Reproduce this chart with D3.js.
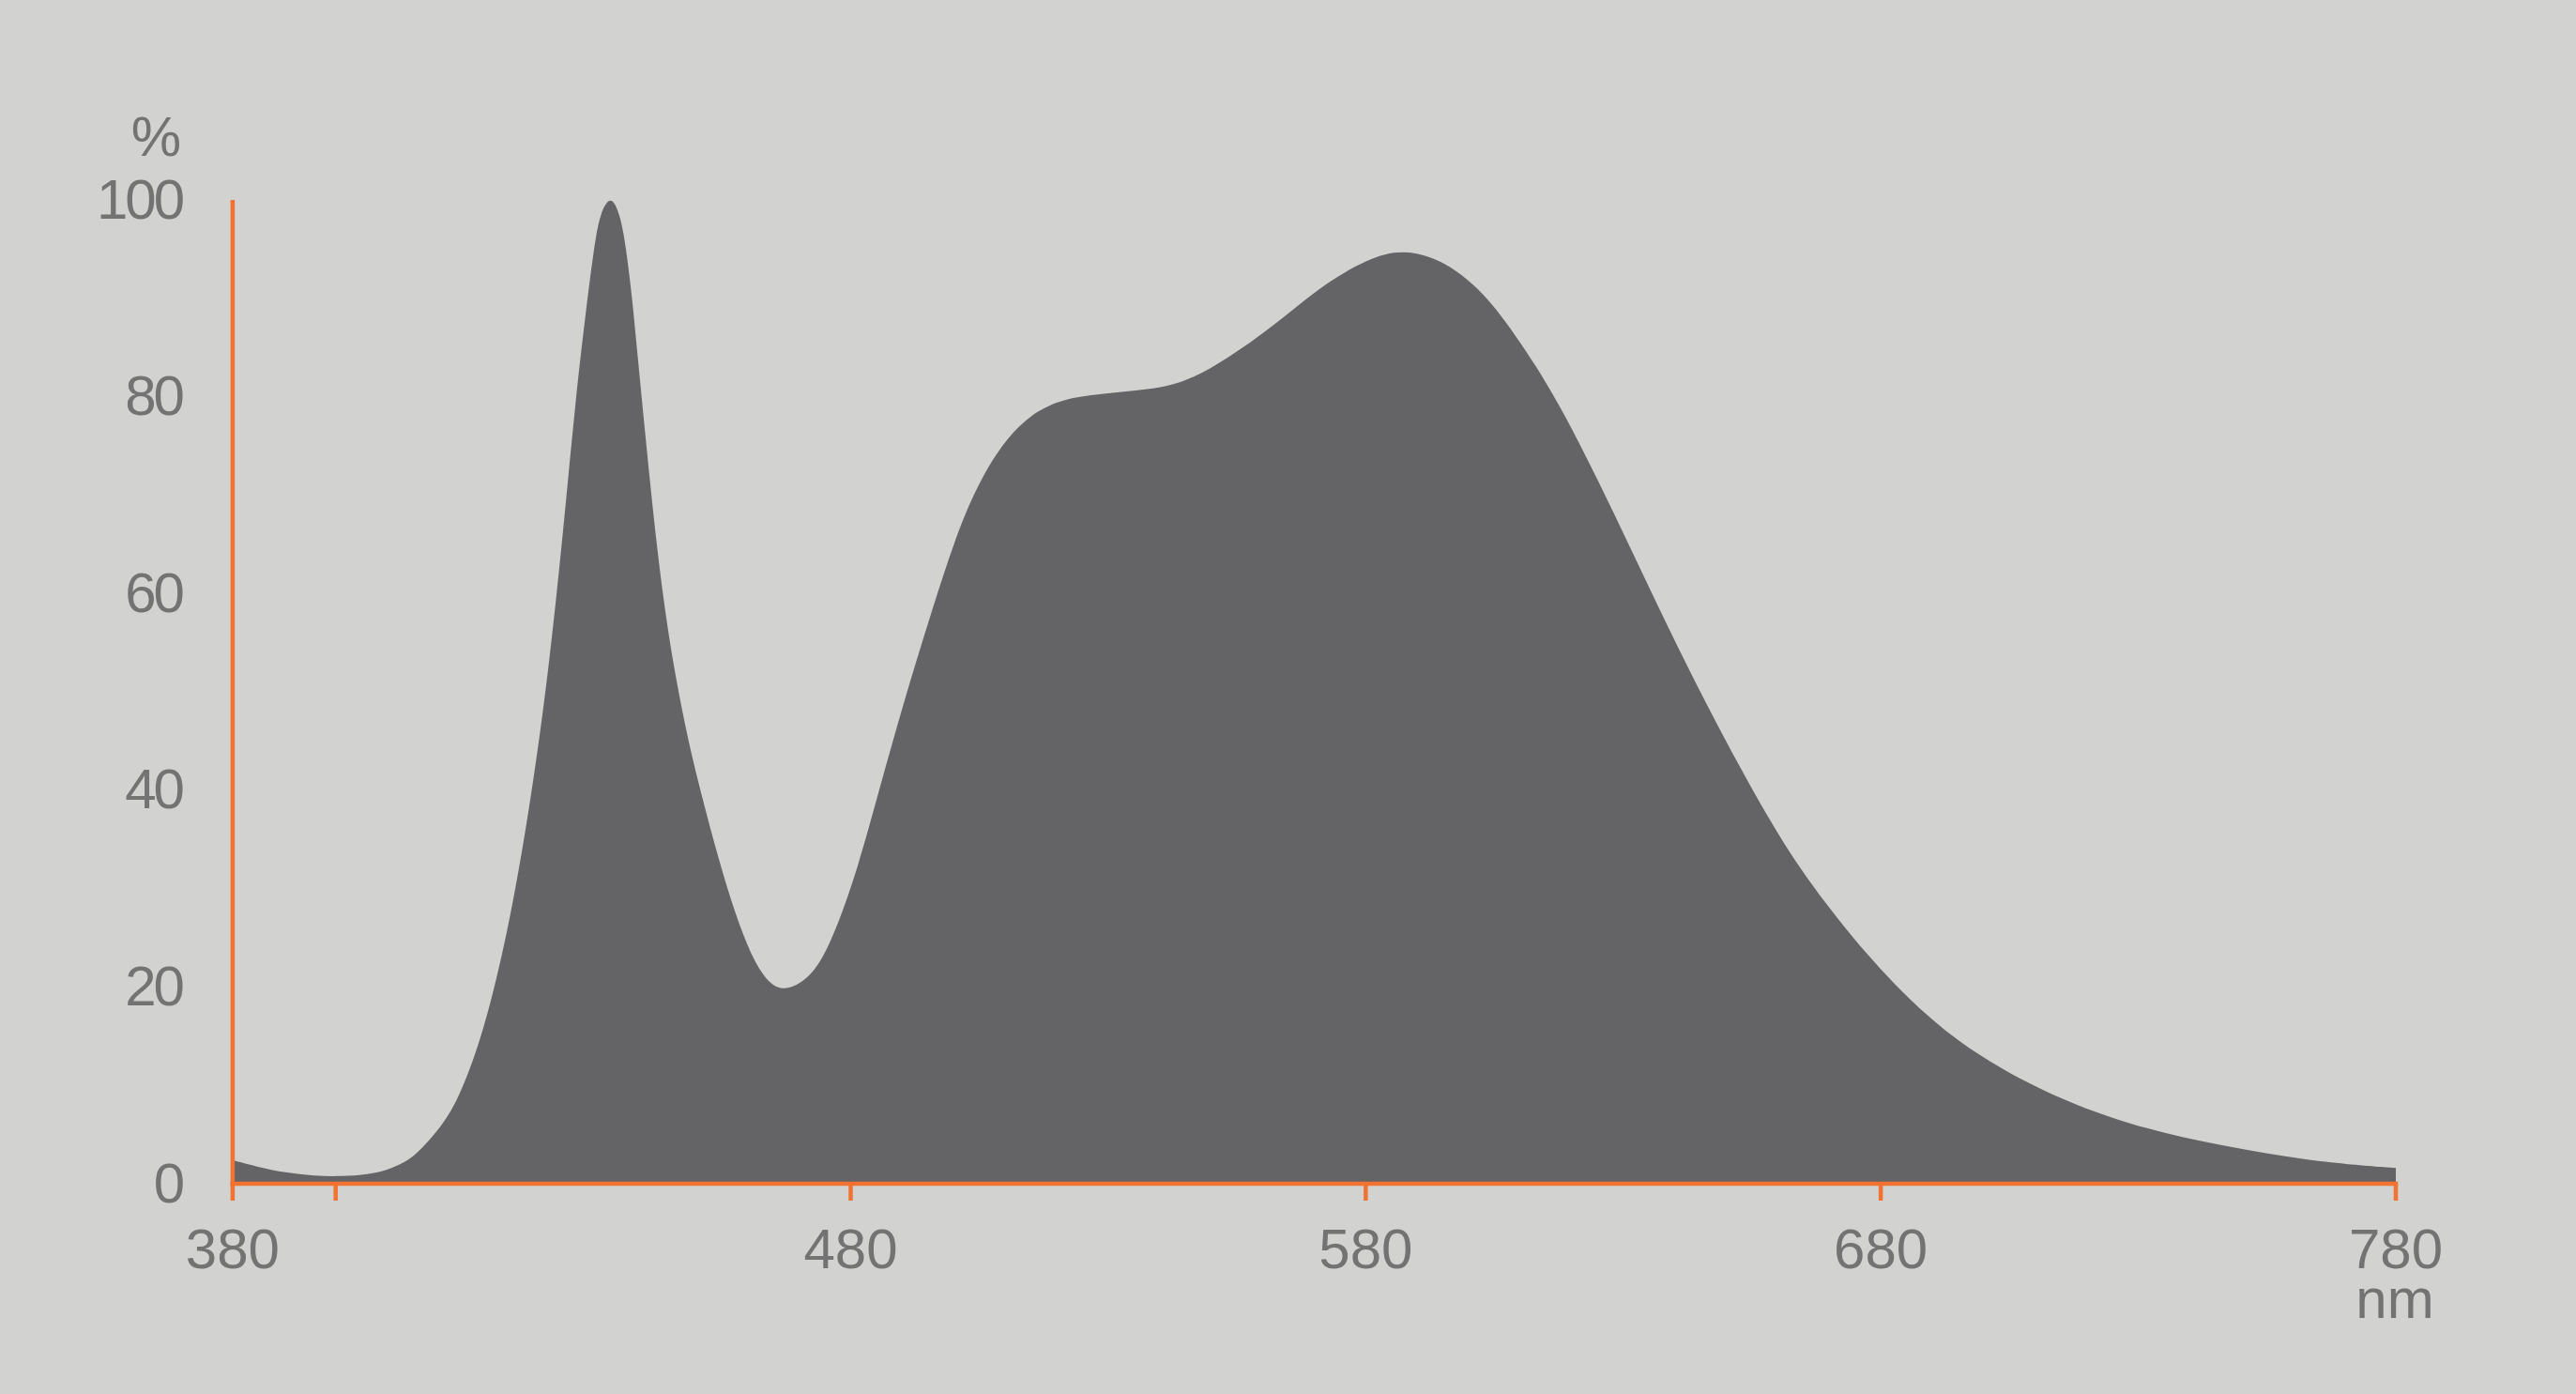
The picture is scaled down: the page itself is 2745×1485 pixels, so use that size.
<!DOCTYPE html>
<html>
<head>
<meta charset="utf-8">
<script src="https://cdn.jsdelivr.net/npm/d3@7"></script>
<style>
  html, body { margin: 0; padding: 0; background: #d2d2d0; }
  svg { display: block; }
  text { font-family: "Liberation Sans", Arial, sans-serif; fill: #737373; }
</style>
</head>
<body>
<svg id="chart" width="2745" height="1485"></svg>
<script>
// Wavelength (nm) and relative intensity (%)
const wavelengths = [360, 365.5, 370, 376, 381, 386.4, 390, 393.4, 396, 399, 401.5, 403.9, 407.4, 410.9, 414.4, 417.8, 421.3, 424.2, 426.6, 428.4, 430.2, 431.4, 433.5, 435.3, 436.3, 437.5, 438.7, 440.0, 441.2, 442.4, 443.6, 445.4, 448.4, 451.5, 454.5, 457.6, 460.6, 463.6, 466.7, 470.3, 474.0, 477.6, 481.3, 484.9, 489.8, 495.8, 501.9, 508.0, 514.0, 520.1, 526.2, 535.3, 544.4, 553.5, 561.9, 571.1, 580.5, 587, 594.4, 602.8, 610, 618, 629.6, 641.2, 652.9, 662.2, 671.4, 681.9, 694.7, 711, 728.4, 745.8, 763.3, 780];
const intensity   = [2.2, 1.43, 0.95, 0.6, 0.55, 0.76, 1.2, 1.95, 3.0, 4.7, 6.4, 8.6, 13.2, 19.7, 28.1, 38.5, 51.6, 66.2, 79.6, 87.7, 95.2, 98.6, 100.4, 98.2, 95.2, 90.3, 83.6, 76.6, 70.3, 64.5, 59.4, 53.0, 44.8, 38.4, 32.5, 27.2, 23.1, 20.4, 19.4, 20.1, 22.0, 26.2, 31.8, 38.6, 47.9, 58.2, 68.0, 74.1, 77.7, 79.4, 80.0, 80.4, 81.0, 83.8, 86.9, 91.0, 93.9, 94.8, 93.9, 90.6, 85.4, 78.9, 66.5, 53.5, 41.8, 33.3, 26.8, 20.3, 14.1, 9.2, 5.7, 3.7, 2.1, 1.4];

const xTicks = [380, 480, 580, 680, 780];
const xTickLabels = ["380", "480", "580", "680", "780"];
const yTicks = [0, 20, 40, 60, 80, 100];
const yTickLabels = ["0", "20", "40", "60", "80", "100"];
const xDomain = [360, 780];
const yDomain = [0, 100];
const xUnit = "nm";
const yUnit = "%";

const data = wavelengths.map((w, i) => ({ w, v: intensity[i] }));

const svg = d3.select("#chart");
const x = d3.scaleLinear().domain(xDomain).range([247.9, 2553]);
const y = d3.scaleLinear().domain(yDomain).range([1259, 211]);

const orange = "#f17231";
const axisW = 4.5;

svg.append("rect").attr("width", 2745).attr("height", 1485).attr("fill", "#d2d2d0");

const area = d3.area()
  .x(d => x(d.w))
  .y0(y(0))
  .y1(d => y(d.v))
  .curve(d3.curveBasis);

svg.append("path").datum(data).attr("d", area).attr("fill", "#646466");

// y axis line
svg.append("line")
  .attr("x1", x(xDomain[0])).attr("x2", x(xDomain[0]))
  .attr("y1", y(100) + 2).attr("y2", y(0) + 4)
  .attr("stroke", orange).attr("stroke-width", axisW);

// x axis line
const axisY = y(0) + 2;
svg.append("line")
  .attr("x1", x(xDomain[0]) - axisW / 2).attr("x2", x(xDomain[1]) + axisW / 2)
  .attr("y1", axisY).attr("y2", axisY)
  .attr("stroke", orange).attr("stroke-width", axisW);

// x ticks (origin tick plus labelled ticks)
const tickPos = [xDomain[0]].concat(xTicks);
svg.selectAll("line.xtick").data(tickPos).enter().append("line")
  .attr("class", "xtick")
  .attr("x1", d => x(d)).attr("x2", d => x(d))
  .attr("y1", axisY).attr("y2", axisY + 18)
  .attr("stroke", orange).attr("stroke-width", axisW);

// x tick labels (first label sits at the axis origin, as in the reference)
svg.selectAll("text.xlab").data(xTicks).enter().append("text")
  .attr("class", "xlab")
  .attr("x", (d, i) => i === 0 ? x(xDomain[0]) : x(d))
  .attr("y", 1351)
  .attr("text-anchor", "middle")
  .attr("font-size", 60)
  .text((d, i) => xTickLabels[i]);

svg.append("text")
  .attr("x", x(xDomain[1]) - 1).attr("y", 1404)
  .attr("text-anchor", "middle")
  .attr("font-size", 60)
  .text(xUnit);

// y tick labels
svg.selectAll("text.ylab").data(yTicks).enter().append("text")
  .attr("class", "ylab")
  .attr("x", 194)
  .attr("y", d => y(d) + 21.5)
  .attr("text-anchor", "end")
  .attr("font-size", 60)
  .attr("letter-spacing", -3)
  .text((d, i) => yTickLabels[i]);

svg.append("text")
  .attr("x", 193).attr("y", 166)
  .attr("text-anchor", "end")
  .attr("font-size", 60)
  .text(yUnit);
</script>
</body>
</html>
